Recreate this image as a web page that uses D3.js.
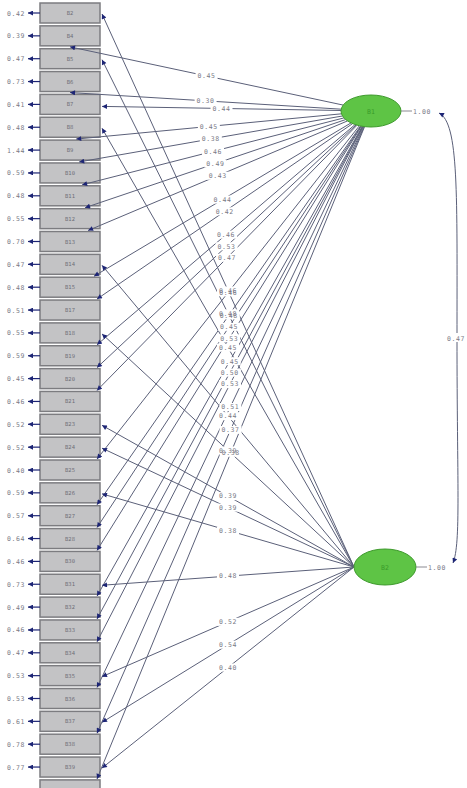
<!DOCTYPE html>
<html>
<head>
<meta charset="utf-8">
<script src="https://cdn.jsdelivr.net/npm/d3@7"></script>
<style>
  body { margin: 0; background: #fff; }
  svg { display: block; }
</style>
</head>
<body>
<svg id="chart" width="467" height="788"></svg>
<script>
// Observed indicators, top to bottom
const items = ["B2","B4","B5","B6","B7","B8","B9","B10","B11","B12","B13","B14","B15","B17",
  "B18","B19","B20","B21","B23","B24","B25","B26","B27","B28","B30","B31","B32","B33",
  "B34","B35","B36","B37","B38","B39","B40"];

// Error variances shown left of each indicator (last box runs off the page)
const errorVars = [0.42,0.39,0.47,0.73,0.41,0.48,1.44,0.59,0.48,0.55,0.70,0.47,0.48,0.51,
  0.55,0.59,0.45,0.46,0.52,0.52,0.40,0.59,0.57,0.64,0.46,0.73,0.49,0.46,0.47,0.53,
  0.53,0.61,0.78,0.77];

// Latent factors
const factors = ["B1","B2"];
const factorVars = [1.00, 1.00];
const factorCorr = 0.47;

// Loadings on the first factor
const f1Items = ["B4","B6","B7","B9","B10","B11","B12","B13","B15","B17","B19","B20","B21",
  "B25","B27","B28","B30","B32","B33","B34","B36","B38","B40"];
const f1Loads = [0.45,0.30,0.44,0.45,0.38,0.46,0.49,0.43,0.44,0.42,0.46,0.53,0.47,
  0.46,0.48,0.45,0.53,0.45,0.50,0.53,0.51,0.37,0.38];

// Loadings on the second factor
const f2Items = ["B2","B5","B8","B14","B18","B23","B24","B26","B31","B35","B37","B39"];
const f2Loads = [0.46,0.48,0.45,0.44,0.39,0.39,0.39,0.38,0.48,0.52,0.54,0.40];

const svg = d3.select("#chart");

const boxX = 40, boxW = 60, boxH = 20;
const y = d3.scaleLinear().domain([0, items.length - 1]).range([3, 3 + 22.85 * (items.length - 1)]);
const idx = name => items.indexOf(name);

const lineCol = "#5b6079";
const headCol = "#1d2575";
const textCol = "#7a7a86";
const font = "DejaVu Sans Mono, monospace";

// arrowhead marker
const defs = svg.append("defs");
defs.append("marker")
  .attr("id", "head")
  .attr("viewBox", "0 0 10 10")
  .attr("refX", 10).attr("refY", 5)
  .attr("markerWidth", 7).attr("markerHeight", 5)
  .attr("markerUnits", "userSpaceOnUse")
  .attr("orient", "auto-start-reverse")
  .append("path").attr("d", "M0,0 L10,5 L0,10 Z").attr("fill", headCol);

// factor ellipses geometry
const fGeo = [
  { cx: 371, cy: 111, rx: 30, ry: 16 },
  { cx: 385, cy: 567, rx: 31, ry: 18 }
];

// indicator boxes
const boxes = svg.append("g");
boxes.selectAll("rect").data(items).join("rect")
  .attr("x", boxX).attr("y", (d, i) => y(i))
  .attr("width", boxW).attr("height", boxH)
  .attr("fill", "#c3c3c5").attr("stroke", "#7c7c80").attr("stroke-width", 1.5);
boxes.selectAll("text").data(items).join("text")
  .attr("x", boxX + boxW / 2).attr("y", (d, i) => y(i) + boxH / 2 + 2)
  .attr("text-anchor", "middle")
  .attr("font-family", font).attr("font-size", 5.5).attr("fill", "#6f6f78")
  .text(d => d);

// error variance arrows and values
const err = svg.append("g");
errorVars.forEach((v, i) => {
  const cy = y(i) + boxH / 2;
  err.append("line")
    .attr("x1", boxX).attr("y1", cy).attr("x2", boxX - 12).attr("y2", cy)
    .attr("stroke", headCol).attr("stroke-width", 1.2)
    .attr("marker-end", "url(#head)");
  err.append("text")
    .attr("x", 25).attr("y", cy + 2.5)
    .attr("text-anchor", "end")
    .attr("font-family", font).attr("font-size", 6.5).attr("fill", textCol)
    .attr("letter-spacing", 0.6)
    .text(v.toFixed(2));
});

// start point on the ellipse boundary toward a target
function onEllipse(g, tx, ty) {
  const dx = tx - g.cx, dy = ty - g.cy;
  const t = 1 / Math.sqrt((dx / g.rx) ** 2 + (dy / g.ry) ** 2);
  return [g.cx + dx * t, g.cy + dy * t];
}

// where a path from a factor meets its indicator box
function landing(f, i) {
  const top = y(i), cy = top + boxH / 2, right = boxX + boxW;
  if (f === 1) return [right + 2, cy + 1];
  const g = fGeo[0];
  if (cy < g.cy - 20) return [boxX + 30, top + boxH + 1];       // box above: bottom edge
  if (cy <= g.cy + 20) return [right + 2, cy + 2];               // level: right edge
  return [Math.min(right - 3, 58 + top * 0.13), top - 1];         // box below: top edge
}

const paths = [];
f1Items.forEach((name, k) => {
  const [ex, ey] = landing(0, idx(name));
  const [sx, sy] = onEllipse(fGeo[0], ex, ey);
  paths.push({ f: 0, sx, sy, ex, ey, v: f1Loads[k] });
});
f2Items.forEach((name, k) => {
  const [ex, ey] = landing(1, idx(name));
  // second factor's paths all leave from its left tip
  const sx = fGeo[1].cx - fGeo[1].rx, sy = fGeo[1].cy;
  paths.push({ f: 1, sx, sy, ex, ey, v: f2Loads[k] });
});
paths.forEach(p => {
  p.lx = (p.sx + p.ex) / 2;
  p.ly = (p.sy + p.ey) / 2;
});

const lines = svg.append("g");
lines.selectAll("line").data(paths).join("line")
  .attr("x1", d => d.sx).attr("y1", d => d.sy)
  .attr("x2", d => d.ex).attr("y2", d => d.ey)
  .attr("stroke", lineCol).attr("stroke-width", 1)
  .attr("marker-end", "url(#head)");

// loading labels at each path's midpoint, with a white knock-out behind
const lab = svg.append("g");
paths.forEach(p => {
  lab.append("rect")
    .attr("x", p.lx - 11).attr("y", p.ly - 4)
    .attr("width", 22).attr("height", 8).attr("fill", "#fff");
});
paths.forEach(p => {
  lab.append("text")
    .attr("x", p.lx).attr("y", p.ly + 2.3)
    .attr("text-anchor", "middle")
    .attr("font-family", font).attr("font-size", 6.5).attr("fill", textCol)
    .attr("letter-spacing", 0.6)
    .text(p.v.toFixed(2));
});

// factor ellipses
const fg = svg.append("g");
fg.selectAll("ellipse").data(fGeo).join("ellipse")
  .attr("cx", d => d.cx).attr("cy", d => d.cy)
  .attr("rx", d => d.rx).attr("ry", d => d.ry)
  .attr("fill", "#5ec445").attr("stroke", "#3f9a2e").attr("stroke-width", 1);
fg.selectAll("text").data(fGeo).join("text")
  .attr("x", d => d.cx).attr("y", d => d.cy + 2.5)
  .attr("text-anchor", "middle")
  .attr("font-family", font).attr("font-size", 6.5).attr("fill", "#3a9a2a")
  .text((d, i) => factors[i]);

// factor variances
fGeo.forEach((g, i) => {
  const x0 = g.cx + g.rx;
  fg.append("line")
    .attr("x1", x0).attr("y1", g.cy).attr("x2", x0 + 11).attr("y2", g.cy)
    .attr("stroke", "#8a8a92").attr("stroke-width", 1);
  fg.append("text")
    .attr("x", x0 + 12).attr("y", g.cy + 2.5)
    .attr("font-family", font).attr("font-size", 6.5).attr("fill", textCol)
    .attr("letter-spacing", 0.6)
    .text(factorVars[i].toFixed(2));
});

// factor covariance curve
const cTop = [fGeo[0].cx + fGeo[0].rx + 38, fGeo[0].cy + 2];
const cBot = [fGeo[1].cx + fGeo[1].rx + 37, fGeo[1].cy - 4];
const midY = (cTop[1] + cBot[1]) / 2;
svg.append("path")
  .attr("d", `M${cTop[0]},${cTop[1]} C${cTop[0] + 20},${cTop[1] + 10} ${cTop[0] + 18},${cTop[1] + 80} ${cTop[0] + 18},${midY}
              S${cBot[0] + 8},${cBot[1] - 20} ${cBot[0]},${cBot[1]}`)
  .attr("fill", "none").attr("stroke", lineCol).attr("stroke-width", 1)
  .attr("marker-start", "url(#head)").attr("marker-end", "url(#head)");
svg.append("rect").attr("x", cTop[0] + 6).attr("y", midY - 5).attr("width", 30).attr("height", 9).attr("fill", "#fff");
svg.append("text")
  .attr("x", cTop[0] + 8).attr("y", midY + 2.5)
  .attr("font-family", font).attr("font-size", 6.5).attr("fill", textCol)
  .attr("letter-spacing", 0.6)
  .text(factorCorr.toFixed(2));
</script>
</body>
</html>
